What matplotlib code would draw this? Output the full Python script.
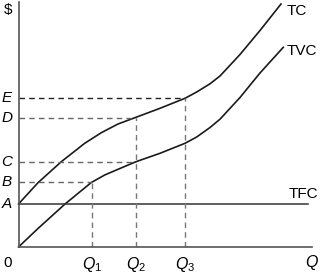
import matplotlib.pyplot as plt

plt.rcParams['font.family'] = ['Liberation Sans', 'DejaVu Sans']
plt.rcParams['mathtext.fontset'] = 'custom'
plt.rcParams['mathtext.rm'] = 'Liberation Sans'
plt.rcParams['mathtext.it'] = 'Liberation Sans:italic'

# levels on the $ axis and quantities on the Q axis
A, B, C, D, E = 43, 65, 85.5, 129.5, 149
Q1, Q2, Q3 = 73.5, 117.5, 166.8
q_max = 293.5

# total variable cost curve
tvc_q = [0, 19.5, 46.2, 72.8, 86.2, 99.5, 117.5, 141.5, 166.5, 178.2, 191.5, 201.5, 221.5, 241.5, 264.8]
tvc_v = [0, 18.5, 42.7, 64.5, 72, 77.7, 85.3, 93.7, 103.7, 110, 119.5, 127.8, 149.5, 174, 199.7]

# total cost curve
tc_q = [0, 19.5, 42.8, 66.2, 82.8, 99.5, 117.5, 141.5, 166.5, 178.2, 191.5, 201.5, 221.5, 241.5, 262.5]
tc_v = [43, 64.3, 85.3, 103.7, 114.3, 123, 129.7, 138.7, 148.7, 155, 163.2, 171, 192.5, 216.5, 243]

fig = plt.figure(figsize=(3.2, 2.77), dpi=100)
ax = fig.add_axes([18.5/320, 30/277, (312-18.5)/320, 245/277])
ax.set_xlim(0, q_max)
ax.set_ylim(0, 245)
for s in ['top', 'right']:
    ax.spines[s].set_visible(False)
for s in ['left', 'bottom']:
    ax.spines[s].set_color('#555555')
    ax.spines[s].set_linewidth(1.2)
ax.set_xticks([])
ax.set_yticks([])

ax.plot(tc_q, tc_v, color='#1a1a1a', lw=1.2, clip_on=False, solid_joinstyle='round')
ax.plot(tvc_q, tvc_v, color='#1a1a1a', lw=1.2, clip_on=False, solid_joinstyle='round')
ax.plot([0, 289.5], [A, A], color='#333333', lw=1.1)

dash = dict(lw=1.0, linestyle=(0, (4, 3)))
ax.plot([0, Q3], [E, E], color='#222222', **dash)
ax.plot([0, Q2], [D, D], color='#666666', **dash)
ax.plot([0, Q2], [C, C], color='#666666', **dash)
ax.plot([0, Q1], [B, B], color='#666666', **dash)
ax.plot([Q1, Q1], [0, B], color='#777777', **dash)
ax.plot([Q2, Q2], [0, D], color='#777777', **dash)
ax.plot([Q3, Q3], [0, E], color='#777777', **dash)

fs = 11
for lab, v in zip(['A', 'B', 'C', 'D', 'E'], [A, B, C, D, E]):
    ax.text(-11.5, v, lab, fontsize=fs, style='italic', ha='center', va='center', clip_on=False)
ax.text(-10.5, 237, '$', fontsize=fs, ha='center', va='center', clip_on=False)
ax.text(-10.5, -16, '0', fontsize=fs, ha='center', va='center', clip_on=False)
for lab, q in zip(['$Q_1$', '$Q_2$', '$Q_3$'], [Q1, Q2, Q3]):
    ax.text(q, -18, lab, fontsize=11.5, ha='center', va='center', clip_on=False)
ax.text(q_max, -16, '$Q$', fontsize=11.5, ha='center', va='center', clip_on=False)

ax.text(268.5, 236, 'TC', fontsize=fs, ha='left', va='center', clip_on=False)
ax.text(268.5, 196, 'TVC', fontsize=fs, ha='left', va='center', clip_on=False)
ax.text(270, 53, 'TFC', fontsize=fs, ha='left', va='center', clip_on=False)

fig.savefig('out.png', dpi=100)
